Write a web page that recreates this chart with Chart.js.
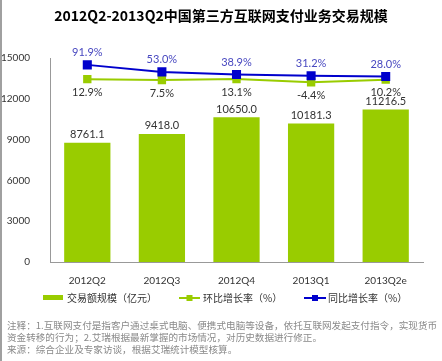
<!DOCTYPE html>
<html>
<head>
<meta charset="utf-8">
<script src="https://cdn.jsdelivr.net/npm/chart.js@4.4.1/dist/chart.umd.min.js"></script>
<style>
	body { margin: 0; background: #fff; }
	.frame { position: relative; width: 442px; height: 361px; box-sizing: border-box; border-left: 2px solid #a0a0a0; overflow: hidden; }
	.container_chart { position: absolute; left: -2px; top: 0; width: 442px; height: 361px; }
	.notes { position: absolute; left: 5px; top: 319px; width: 440px; font: 9.6px "Noto Sans CJK SC", sans-serif; line-height: 12px; color: #8a8a8a; white-space: nowrap; }
</style>
</head>
<body>
<div class="frame">
	<div class="container_chart"><canvas id="scale_chart" width="442" height="361"></canvas></div>
	<div class="notes">
		<div>注释：1.互联网支付是指客户通过桌式电脑、便携式电脑等设备，依托互联网发起支付指令，实现货币</div>
		<div>资金转移的行为；2.艾瑞根据最新掌握的市场情况，对历史数据进行修正。</div>
		<div>来源：综合企业及专家访谈，根据艾瑞统计模型核算。</div>
	</div>
</div>
<script>
const chartTitle = '2012Q2-2013Q2中国第三方互联网支付业务交易规模';
const categories = ['2012Q2', '2012Q3', '2012Q4', '2013Q1', '2013Q2e'];
const volume = [8761.1, 9418.0, 10650.0, 10181.3, 11216.5];
const qoqGrowth = [12.9, 7.5, 13.1, -4.4, 10.2];
const yoyGrowth = [91.9, 53.0, 38.9, 31.2, 28.0];
const seriesNames = ['交易额规模（亿元）', '环比增长率（%）', '同比增长率（%）'];

const GREEN = '#99cc00';
const BLUE = '#0000cc';
const CJK = '"Noto Sans CJK SC", sans-serif';

// labels, title and legend are drawn by hand
const extrasPlugin = {
	id: 'extras',
	afterDatasetsDraw(chart) {
		const ctx = chart.ctx;
		ctx.save();
		ctx.font = '11px Lato';
		ctx.textAlign = 'center';
		ctx.textBaseline = 'middle';
		chart.getDatasetMeta(2).data.forEach((bar, i) => {
			ctx.fillStyle = '#333';
			ctx.fillText(volume[i].toFixed(1), bar.x, bar.y - 8);
		});
		chart.getDatasetMeta(1).data.forEach((pt, i) => {
			ctx.fillStyle = '#333';
			ctx.fillText(qoqGrowth[i].toFixed(1) + '%', pt.x, pt.y + 13);
		});
		chart.getDatasetMeta(0).data.forEach((pt, i) => {
			ctx.fillStyle = '#4848c0';
			ctx.fillText(yoyGrowth[i].toFixed(1) + '%', pt.x, pt.y - 12);
		});
		ctx.restore();
	},
	afterDraw(chart) {
		const ctx = chart.ctx;
		ctx.save();
		ctx.textBaseline = 'middle';
		ctx.textAlign = 'center';
		ctx.fillStyle = '#000';
		ctx.font = 'bold 14px ' + CJK;
		ctx.fillText(chartTitle, 221, 16);

		const ly = 298;
		ctx.textAlign = 'left';
		ctx.font = '10px ' + CJK;
		// bar key
		ctx.fillStyle = GREEN;
		ctx.fillRect(43, ly - 3, 20, 5);
		ctx.fillStyle = '#333';
		ctx.fillText(seriesNames[0], 67, ly);
		// line keys
		[[179, 200, GREEN, seriesNames[1], 203], [304, 326, BLUE, seriesNames[2], 328]].forEach(k => {
			ctx.strokeStyle = k[2];
			ctx.lineWidth = 2;
			ctx.beginPath();
			ctx.moveTo(k[0], ly);
			ctx.lineTo(k[1], ly);
			ctx.stroke();
			ctx.fillStyle = k[2];
			const mx = (k[0] + k[1]) / 2;
			ctx.fillRect(mx - 3, ly - 3, 6, 6);
			ctx.fillStyle = '#333';
			ctx.fillText(k[3], k[4], ly);
		});
		ctx.restore();
	}
};

new Chart(document.getElementById('scale_chart'), {
	type: 'bar',
	data: {
		labels: categories,
		datasets: [
			{
				type: 'line',
				label: seriesNames[2],
				data: yoyGrowth,
				yAxisID: 'y1',
				borderColor: BLUE,
				backgroundColor: BLUE,
				borderWidth: 2,
				pointStyle: 'rect',
				pointRadius: 5,
				order: 0
			},
			{
				type: 'line',
				label: seriesNames[1],
				data: qoqGrowth,
				yAxisID: 'y1',
				borderColor: GREEN,
				backgroundColor: GREEN,
				borderWidth: 2,
				pointStyle: 'rect',
				pointRadius: 4.5,
				order: 1
			},
			{
				label: seriesNames[0],
				data: volume,
				yAxisID: 'y',
				backgroundColor: GREEN,
				categoryPercentage: 1,
				barPercentage: 0.62,
				order: 2
			}
		]
	},
	options: {
		responsive: false,
		animation: false,
		layout: { padding: { top: 58, right: 19, left: 0, bottom: 0 } },
		scales: {
			x: {
				grid: { display: false },
				border: { display: true, color: '#999' },
				ticks: { color: '#333', font: { family: 'Lato', size: 10 }, padding: 5 },
				afterFit(scale) { scale.height = 99; }
			},
			y: {
				min: 0,
				max: 15000,
				grid: { display: false },
				border: { display: true, color: '#999' },
				ticks: {
					stepSize: 3000,
					color: '#333',
					font: { family: 'Lato', size: 10 },
					padding: 12,
					callback: (v) => String(v)
				},
				afterFit(scale) { scale.width = 50; }
			},
			y1: {
				display: false,
				min: -1000,
				max: 130
			}
		},
		plugins: {
			legend: { display: false },
			tooltip: { enabled: false }
		}
	},
	plugins: [extrasPlugin]
});
</script>
</body>
</html>
